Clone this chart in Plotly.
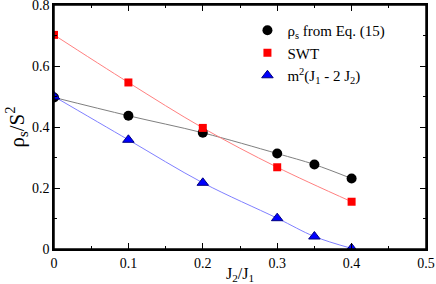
import plotly.graph_objects as go

x_rho = [0.0, 0.1, 0.2, 0.3, 0.35, 0.4]
y_rho = [0.497, 0.437, 0.381, 0.313, 0.277, 0.231]
x_swt = [0.0, 0.1, 0.2, 0.3, 0.4]
y_swt = [0.702, 0.546, 0.397, 0.268, 0.155]
x_m2 = [0.0, 0.1, 0.2, 0.3, 0.35, 0.4]
y_m2 = [0.5, 0.358, 0.217, 0.101, 0.041, 0.002]
x_ticks = [0, 0.1, 0.2, 0.3, 0.4, 0.5]
x_labels = ["0", "0.1", "0.2", "0.3", "0.4", "0.5"]
y_ticks = [0, 0.2, 0.4, 0.6, 0.8]
y_labels = ["0", "0.2", "0.4", "0.6", "0.8"]

font_serif = "Liberation Serif, Times New Roman, serif"

fig = go.Figure()
fig.add_trace(go.Scatter(x=x_rho, y=y_rho, mode="lines", line=dict(color="#808080", width=1, shape="spline"),
                         showlegend=False, hoverinfo="skip"))
fig.add_trace(go.Scatter(x=x_swt, y=y_swt, mode="lines", line=dict(color="#ff8080", width=1, shape="spline"),
                         showlegend=False, hoverinfo="skip"))
fig.add_trace(go.Scatter(x=x_m2, y=y_m2, mode="lines", line=dict(color="#8080ff", width=1, shape="spline"),
                         showlegend=False, hoverinfo="skip"))
fig.add_trace(go.Scatter(x=x_rho, y=y_rho, mode="markers", name="ρ<sub>s</sub> from Eq. (15)",
                         marker=dict(symbol="circle", size=10, color="black")))
fig.add_trace(go.Scatter(x=x_swt, y=y_swt, mode="markers", name="SWT",
                         marker=dict(symbol="square", size=8, color="red")))
fig.add_trace(go.Scatter(x=x_m2, y=y_m2, mode="markers", name="m<sup>2</sup>(J<sub>1</sub> - 2 J<sub>2</sub>)",
                         marker=dict(symbol="triangle-up", size=10, color="blue", line=dict(color="#000080", width=1))))

axis_common = dict(showgrid=False, zeroline=False, showline=True, linecolor="black", linewidth=1.5,
                   mirror="ticks", ticks="inside", ticklen=6, tickcolor="black", automargin=False,
                   ticklabeloverflow="allow",
                   tickfont=dict(family=font_serif, size=14, color="black"))
fig.update_xaxes(range=[0, 0.5], tickvals=x_ticks, ticktext=x_labels,
                 minor=dict(ticks="inside", ticklen=3, dtick=0.05, tickcolor="black"),
                 title=dict(text="J<sub>2</sub>/J<sub>1</sub>", font=dict(family=font_serif, size=16, color="black"), standoff=0),
                 **axis_common)
fig.update_yaxes(range=[0, 0.8], tickvals=y_ticks, ticktext=y_labels,
                 minor=dict(ticks="inside", ticklen=3, dtick=0.1, tickcolor="black"),
                 title=dict(text="ρ<sub>s</sub>/S<sup>2</sup>", font=dict(family=font_serif, size=21, color="black"), standoff=2),
                 **axis_common)
fig.add_shape(type="rect", xref="paper", yref="paper", x0=0, x1=1, y0=0, y1=1,
              line=dict(color="black", width=1.5), fillcolor="rgba(0,0,0,0)", layer="above")
fig.update_layout(width=436, height=284, margin=dict(l=54, r=10, t=5, b=35, autoexpand=False),
                  font=dict(family=font_serif, color="black"),
                  plot_bgcolor="white", paper_bgcolor="white",
                  legend=dict(x=0.52, y=0.963, xanchor="left", yanchor="top", bgcolor="rgba(0,0,0,0)",
                              font=dict(family=font_serif, size=15, color="black"), itemwidth=30,
                              tracegroupgap=0))
fig.write_html("out.html", config={"displayModeBar": False},
               post_script="document.body.style.margin='0px';")
